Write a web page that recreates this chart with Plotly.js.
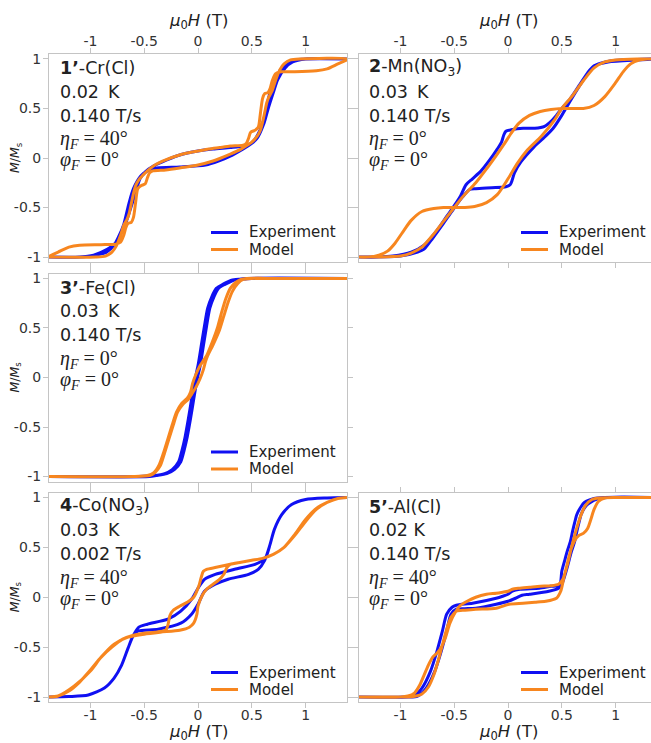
<!DOCTYPE html>
<html>
<head>
<meta charset="utf-8">
<script src="https://cdn.plot.ly/plotly-3.0.1.min.js"></script>
<style>
  html, body { margin: 0; padding: 0; overflow: hidden; background: #ffffff; }
</style>
</head>
<body>
<div id="chart"></div>
<script>
// ---------------------------------------------------------------------------
// Hysteresis loops M/Ms versus applied field mu0H (T).
// For every sample: experiment and model, descending sweep (+H -> -H)
// followed by ascending sweep (-H -> +H).
// ---------------------------------------------------------------------------

// 1'-Cr(Cl)
const crExpDownH = [1.4, 1.0, 0.9, 0.83, 0.76, 0.73, 0.67, 0.62, 0.58, 0.5, 0.42, 0.3, 0.14, 0, -0.17, -0.29, -0.41, -0.49, -0.54, -0.58, -0.63, -0.67, -0.72, -0.76, -0.84, -0.97, -1.1, -1.4];
const crExpDownM = [1, 1, 0.99, 0.96, 0.88, 0.79, 0.66, 0.42, 0.29, 0.15, 0.12, 0.105, 0.09, 0.07, 0.03, -0.02, -0.08, -0.14, -0.21, -0.35, -0.52, -0.65, -0.77, -0.85, -0.92, -0.98, -1, -1];
const crExpUpH = [-1.4, -1.1, -1.0, -0.85, -0.78, -0.74, -0.69, -0.64, -0.6, -0.53, -0.47, -0.38, -0.17, 0.07, 0.19, 0.32, 0.42, 0.49, 0.55, 0.61, 0.65, 0.7, 0.74, 0.81, 0.88, 1.0, 1.4];
const crExpUpM = [-1, -1, -0.99, -0.95, -0.88, -0.8, -0.67, -0.45, -0.31, -0.18, -0.13, -0.1, -0.09, -0.07, -0.03, 0.03, 0.09, 0.14, 0.2, 0.34, 0.49, 0.66, 0.79, 0.91, 0.97, 1, 1];
const crModDownH = [1.4, 1.3, 1.2, 1.1, 0.9, 0.77, 0.72, 0.69, 0.67, 0.65, 0.62, 0.6, 0.58, 0.56, 0.53, 0.49, 0.47, 0.45, 0.42, 0.3, 0.2, 0.1, 0, -0.1, -0.2, -0.3, -0.4, -0.46, -0.5, -0.55, -0.58, -0.6, -0.62, -0.64, -0.66, -0.69, -0.72, -0.76, -0.8, -0.86, -0.95, -1.4];
const crModDownM = [1, 0.95, 0.9, 0.88, 0.87, 0.87, 0.85, 0.78, 0.7, 0.66, 0.65, 0.6, 0.45, 0.31, 0.28, 0.26, 0.2, 0.15, 0.13, 0.12, 0.105, 0.09, 0.07, 0.05, 0.02, -0.02, -0.07, -0.12, -0.16, -0.22, -0.28, -0.36, -0.46, -0.56, -0.62, -0.68, -0.78, -0.89, -0.95, -0.99, -1, -1];
const crModUpH = [-1.4, -1.3, -1.2, -1.1, -0.9, -0.77, -0.72, -0.69, -0.67, -0.65, -0.62, -0.6, -0.58, -0.56, -0.53, -0.49, -0.47, -0.45, -0.42, -0.3, -0.17, 0, 0.14, 0.3, 0.4, 0.46, 0.5, 0.55, 0.58, 0.6, 0.62, 0.64, 0.66, 0.69, 0.72, 0.76, 0.8, 0.86, 0.95, 1.4];
const crModUpM = [-1, -0.95, -0.9, -0.88, -0.875, -0.87, -0.85, -0.78, -0.7, -0.66, -0.65, -0.6, -0.45, -0.31, -0.28, -0.26, -0.2, -0.15, -0.13, -0.12, -0.1, -0.07, -0.03, 0.04, 0.09, 0.13, 0.16, 0.22, 0.28, 0.36, 0.46, 0.56, 0.62, 0.68, 0.78, 0.89, 0.95, 0.99, 1, 1];

// 2-Mn(NO3)
const mnExpDownH = [1.4, 1.2, 0.93, 0.8, 0.74, 0.66, 0.58, 0.5, 0.45, 0.39, 0.34, 0.25, 0.14, 0.03, -0.02, -0.04, -0.06, -0.1, -0.17, -0.25, -0.33, -0.39, -0.44, -0.48, -0.57, -0.66, -0.78, -0.9, -1.07, -1.2, -1.4];
const mnExpDownM = [1, 0.99, 0.97, 0.93, 0.86, 0.73, 0.6, 0.5, 0.43, 0.36, 0.32, 0.3, 0.3, 0.285, 0.27, 0.23, 0.16, 0.09, -0.02, -0.13, -0.21, -0.27, -0.38, -0.45, -0.59, -0.73, -0.88, -0.95, -0.99, -1, -1];
const mnExpUpH = [-1.4, -1.0, -0.84, -0.78, -0.7, -0.6, -0.51, -0.42, -0.36, -0.3, -0.15, -0.02, 0.02, 0.04, 0.06, 0.12, 0.24, 0.33, 0.42, 0.5, 0.57, 0.66, 0.74, 0.82, 0.95, 1.2, 1.4];
const mnExpUpM = [-1, -0.99, -0.95, -0.92, -0.81, -0.66, -0.52, -0.39, -0.32, -0.31, -0.3, -0.29, -0.27, -0.22, -0.15, -0.04, 0.11, 0.2, 0.3, 0.43, 0.56, 0.72, 0.85, 0.94, 0.98, 0.995, 1];
const mnModDownH = [1.4, 1.2, 1.0, 0.9, 0.8, 0.7, 0.6, 0.5, 0.43, 0.31, 0.18, 0.09, 0, -0.1, -0.2, -0.31, -0.4, -0.5, -0.6, -0.69, -0.8, -0.9, -0.98, -1.05, -1.12, -1.2, -1.3, -1.4];
const mnModDownM = [1, 1, 0.99, 0.97, 0.91, 0.78, 0.63, 0.5, 0.38, 0.22, 0.08, -0.05, -0.21, -0.37, -0.45, -0.49, -0.5, -0.5, -0.5, -0.51, -0.54, -0.63, -0.75, -0.86, -0.94, -0.98, -1, -1];
const mnModUpH = [-1.4, -1.2, -1.0, -0.9, -0.8, -0.7, -0.6, -0.5, -0.42, -0.3, -0.2, -0.1, -0.03, 0.03, 0.1, 0.2, 0.3, 0.4, 0.5, 0.6, 0.7, 0.8, 0.9, 1.0, 1.07, 1.14, 1.22, 1.3, 1.4];
const mnModUpM = [-1, -1, -0.99, -0.96, -0.9, -0.78, -0.64, -0.5, -0.39, -0.25, -0.11, 0.04, 0.15, 0.25, 0.35, 0.43, 0.47, 0.49, 0.5, 0.5, 0.5, 0.53, 0.62, 0.76, 0.87, 0.95, 0.99, 1, 1];

// 3'-Fe(Cl)
const feExpDownH = [1.4, 0.5, 0.44, 0.32, 0.23, 0.17, 0.13, 0.09, 0.06, 0.03, 0, -0.03, -0.06, -0.09, -0.12, -0.15, -0.18, -0.24, -0.31, -0.41, -0.55, -1.4];
const feExpDownM = [1, 1, 0.995, 0.985, 0.94, 0.9, 0.82, 0.7, 0.52, 0.32, 0.12, -0.03, -0.22, -0.42, -0.6, -0.74, -0.85, -0.93, -0.97, -0.99, -1, -1];
const feExpUpH = [-1.4, -0.45, -0.39, -0.29, -0.22, -0.16, -0.13, -0.1, -0.07, -0.04, -0.01, 0.02, 0.05, 0.08, 0.11, 0.15, 0.19, 0.25, 0.34, 0.46, 1.4];
const feExpUpM = [-1, -1, -0.99, -0.97, -0.93, -0.85, -0.74, -0.6, -0.42, -0.22, -0.03, 0.12, 0.32, 0.52, 0.7, 0.82, 0.9, 0.94, 0.985, 1, 1];
const feModDownH = [1.4, 0.7, 0.45, 0.4, 0.35, 0.3, 0.26, 0.22, 0.18, 0.13, 0.08, 0.05, 0.02, -0.02, -0.05, -0.07, -0.1, -0.15, -0.2, -0.24, -0.28, -0.32, -0.36, -0.41, -0.47, -0.6, -1.4];
const feModDownM = [1, 1, 1, 0.99, 0.96, 0.9, 0.8, 0.66, 0.5, 0.35, 0.22, 0.17, 0.12, 0.03, -0.06, -0.15, -0.21, -0.26, -0.35, -0.48, -0.62, -0.76, -0.88, -0.96, -0.99, -1, -1];
const feModUpH = [-1.4, -0.6, -0.45, -0.4, -0.35, -0.31, -0.27, -0.23, -0.19, -0.14, -0.09, -0.06, -0.02, 0.02, 0.05, 0.07, 0.09, 0.14, 0.2, 0.24, 0.28, 0.32, 0.37, 0.42, 0.5, 0.7, 1.4];
const feModUpM = [-1, -1, -0.99, -0.96, -0.89, -0.76, -0.62, -0.48, -0.35, -0.27, -0.22, -0.17, -0.1, -0.01, 0.08, 0.16, 0.22, 0.33, 0.48, 0.62, 0.76, 0.87, 0.95, 0.99, 1, 1, 1];

// 4-Co(NO3)
const coExpDownH = [1.4, 1.2, 1.0, 0.87, 0.78, 0.71, 0.67, 0.63, 0.59, 0.53, 0.34, 0.16, 0.06, 0, -0.06, -0.16, -0.28, -0.47, -0.55, -0.6, -0.65, -0.71, -0.78, -0.87, -1.02, -1.2, -1.4];
const coExpDownM = [1, 0.995, 0.98, 0.93, 0.83, 0.68, 0.53, 0.4, 0.36, 0.33, 0.28, 0.23, 0.18, 0.09, -0.02, -0.14, -0.22, -0.27, -0.3, -0.38, -0.51, -0.68, -0.81, -0.91, -0.98, -0.995, -1];
const coExpUpH = [-1.4, -1.2, -1.02, -0.87, -0.78, -0.71, -0.65, -0.6, -0.56, -0.37, -0.16, -0.06, 0, 0.06, 0.16, 0.28, 0.47, 0.56, 0.62, 0.67, 0.71, 0.78, 0.87, 1.0, 1.2, 1.4];
const coExpUpM = [-1, -0.995, -0.98, -0.91, -0.81, -0.68, -0.51, -0.38, -0.34, -0.32, -0.26, -0.17, -0.07, 0.06, 0.13, 0.18, 0.23, 0.28, 0.37, 0.53, 0.68, 0.83, 0.93, 0.98, 0.995, 1];
const coModDownH = [1.4, 1.3, 1.2, 1.1, 1.0, 0.9, 0.8, 0.7, 0.6, 0.5, 0.4, 0.3, 0.17, 0.08, 0.05, 0.03, 0.01, -0.04, -0.1, -0.17, -0.23, -0.26, -0.28, -0.3, -0.4, -0.5, -0.6, -0.7, -0.8, -0.9, -1.0, -1.1, -1.2, -1.3, -1.4];
const coModDownM = [1, 0.99, 0.95, 0.89, 0.78, 0.63, 0.5, 0.43, 0.39, 0.37, 0.35, 0.33, 0.3, 0.28, 0.26, 0.2, 0.12, 0, -0.05, -0.09, -0.13, -0.18, -0.28, -0.33, -0.35, -0.36, -0.38, -0.42, -0.5, -0.6, -0.73, -0.85, -0.94, -0.99, -1];
const coModUpH = [-1.4, -1.3, -1.15, -1.0, -0.9, -0.78, -0.65, -0.5, -0.35, -0.17, -0.08, -0.04, -0.01, 0, 0.04, 0.08, 0.14, 0.2, 0.24, 0.27, 0.3, 0.4, 0.5, 0.6, 0.7, 0.8, 0.9, 1.0, 1.1, 1.2, 1.3, 1.4];
const coModUpM = [-1, -0.99, -0.89, -0.74, -0.6, -0.47, -0.4, -0.37, -0.35, -0.33, -0.3, -0.26, -0.17, -0.09, 0.02, 0.08, 0.13, 0.18, 0.23, 0.3, 0.33, 0.35, 0.37, 0.39, 0.43, 0.5, 0.62, 0.76, 0.88, 0.95, 0.99, 1];

// 5'-Al(Cl)
const alExpDownH = [1.4, 0.89, 0.8, 0.71, 0.68, 0.64, 0.62, 0.6, 0.58, 0.55, 0.53, 0.5, 0.48, 0.4, 0.29, 0.11, 0.04, 0, -0.05, -0.11, -0.33, -0.48, -0.52, -0.57, -0.61, -0.66, -0.72, -0.8, -0.88, -0.97, -1.4];
const alExpDownM = [1, 1, 0.99, 0.95, 0.91, 0.83, 0.75, 0.66, 0.56, 0.46, 0.38, 0.26, 0.12, 0.11, 0.09, 0.08, 0.06, 0.03, 0.01, -0.01, -0.06, -0.08, -0.1, -0.17, -0.34, -0.54, -0.74, -0.91, -0.99, -1, -1];
const alExpUpH = [-1.4, -0.93, -0.84, -0.76, -0.68, -0.62, -0.57, -0.53, -0.48, -0.4, -0.3, -0.11, 0, 0.07, 0.13, 0.2, 0.38, 0.47, 0.5, 0.54, 0.57, 0.59, 0.62, 0.64, 0.66, 0.68, 0.72, 0.75, 0.84, 0.93, 1.4];
const alExpUpM = [-1, -1, -0.99, -0.91, -0.74, -0.54, -0.34, -0.17, -0.12, -0.115, -0.11, -0.07, -0.04, -0.01, 0.02, 0.03, 0.06, 0.09, 0.13, 0.26, 0.38, 0.46, 0.56, 0.66, 0.75, 0.83, 0.91, 0.94, 0.99, 1, 1];
const alModDownH = [1.4, 1.0, 0.85, 0.78, 0.72, 0.67, 0.63, 0.59, 0.55, 0.51, 0.47, 0.4, 0.3, 0.2, 0.1, 0.04, 0, -0.05, -0.11, -0.2, -0.3, -0.38, -0.44, -0.49, -0.54, -0.58, -0.62, -0.66, -0.7, -0.74, -0.78, -0.82, -0.87, -0.93, -1.0, -1.4];
const alModDownM = [1, 1, 0.995, 0.98, 0.92, 0.8, 0.66, 0.5, 0.32, 0.18, 0.13, 0.115, 0.11, 0.1, 0.09, 0.08, 0.06, 0.05, 0.04, 0.03, 0, -0.04, -0.08, -0.15, -0.26, -0.4, -0.5, -0.56, -0.6, -0.68, -0.78, -0.88, -0.96, -0.99, -1, -1];
const alModUpH = [-1.4, -1.0, -0.88, -0.8, -0.74, -0.69, -0.65, -0.61, -0.57, -0.53, -0.48, -0.4, -0.3, -0.11, 0.01, 0.14, 0.25, 0.35, 0.45, 0.49, 0.52, 0.55, 0.58, 0.62, 0.66, 0.7, 0.74, 0.77, 0.8, 0.84, 0.9, 1.0, 1.4];
const alModUpM = [-1, -1, -0.995, -0.97, -0.9, -0.78, -0.64, -0.48, -0.32, -0.2, -0.14, -0.13, -0.12, -0.11, -0.07, -0.06, -0.05, -0.04, -0.01, 0.06, 0.2, 0.33, 0.46, 0.57, 0.62, 0.64, 0.69, 0.78, 0.88, 0.96, 0.995, 1, 1];

// Panel captions
const sampleNames = ['<b>1’</b>-Cr(Cl)', '<b>2</b>-Mn(NO<sub>3</sub>)', '<b>3’</b>-Fe(Cl)', '<b>4</b>-Co(NO<sub>3</sub>)', '<b>5’</b>-Al(Cl)'];
const temperatures = ['0.02 \u2009K', '0.03 \u2009K', '0.03 \u2009K', '0.03 \u2009K', '0.02 K'];
const sweepRates = ['0.140 T/s', '0.140 T/s', '0.140 T/s', '0.002 T/s', '0.140 T/s'];
const etaF = [40, 0, 0, 40, 40];
const phiF = [0, 0, 0, 0, 0];

// Axis ticks
const tickVals = [-1, -0.5, 0, 0.5, 1];
const tickText = ['-1', '-0.5', '0', '0.5', '1'];
const seriesNames = ['Experiment', 'Model'];

// ---------------------------------------------------------------------------
const expColor = '#1010f2';
const modColor = '#f7861f';
const frameColor = '#c4c4c4';
const textColor = '#222222';
const sans = 'DejaVu Sans, Liberation Sans, sans-serif';
const serif = 'Liberation Serif, DejaVu Serif, serif';

const W = 660, H = 743;
const colLeft = [49, 359], colW = 298;
const rowTop = [54, 273.5, 492.5], rowH = [208, 208, 209.5];
const fx = px => px / W;
const fy = px => 1 - px / H;

const panels = [
  {col: 0, row: 0, xLabels: 'top',    yLabels: true,  expH: [crExpDownH, crExpUpH], expM: [crExpDownM, crExpUpM], modH: [crModDownH, crModUpH], modM: [crModDownM, crModUpM]},
  {col: 1, row: 0, xLabels: 'top',    yLabels: false, expH: [mnExpDownH, mnExpUpH], expM: [mnExpDownM, mnExpUpM], modH: [mnModDownH, mnModUpH], modM: [mnModDownM, mnModUpM]},
  {col: 0, row: 1, xLabels: 'none',   yLabels: true,  expH: [feExpDownH, feExpUpH], expM: [feExpDownM, feExpUpM], modH: [feModDownH, feModUpH], modM: [feModDownM, feModUpM]},
  {col: 0, row: 2, xLabels: 'bottom', yLabels: true,  expH: [coExpDownH, coExpUpH], expM: [coExpDownM, coExpUpM], modH: [coModDownH, coModUpH], modM: [coModDownM, coModUpM]},
  {col: 1, row: 2, xLabels: 'bottom', yLabels: false, expH: [alExpDownH, alExpUpH], expM: [alExpDownM, alExpUpM], modH: [alModDownH, alModUpH], modM: [alModDownM, alModUpM]}
];

const traces = [];
const annotations = [];
const shapes = [];
const layout = {
  width: W, height: H,
  margin: {l: 0, r: 0, t: 0, b: 0},
  paper_bgcolor: '#ffffff', plot_bgcolor: '#ffffff',
  showlegend: false,
  font: {family: sans, color: textColor}
};

const lineSpec = (color) => ({color: color, width: 3, shape: 'spline', smoothing: 0.7});

panels.forEach((p, i) => {
  const n = i === 0 ? '' : String(i + 1);
  const xRef = 'x' + n, yRef = 'y' + n;
  const left = colLeft[p.col], right = left + colW;
  const top = rowTop[p.row], bottom = top + rowH[p.row];

  const axisBase = {
    showline: true, linecolor: frameColor, linewidth: 1, mirror: 'ticks',
    ticks: 'outside', ticklen: 5, tickwidth: 1, tickcolor: frameColor,
    showgrid: false, zeroline: false, fixedrange: true,
    tickmode: 'array', tickvals: tickVals, ticktext: tickText,
    tickfont: {family: sans, size: 14, color: '#333333'}
  };

  layout['xaxis' + n] = Object.assign({}, axisBase, {
    domain: [fx(left), fx(right)], range: [-1.385, 1.385],
    anchor: yRef, side: p.xLabels === 'top' ? 'top' : 'bottom',
    showticklabels: p.xLabels !== 'none',
    ticklabelstandoff: p.xLabels === 'bottom' ? -5 : -4
  });
  layout['yaxis' + n] = Object.assign({}, axisBase, {
    domain: [fy(bottom), fy(top)], range: [-1.05, 1.05],
    anchor: xRef, showticklabels: p.yLabels,
    ticklabelstandoff: -1
  });

  // experiment then model, each drawn as descending + ascending sweep
  traces.push({
    type: 'scatter', mode: 'lines', name: seriesNames[0], xaxis: xRef, yaxis: yRef,
    x: p.expH[0].concat(p.expH[1]), y: p.expM[0].concat(p.expM[1]),
    line: lineSpec(expColor), hoverinfo: 'skip'
  });
  traces.push({
    type: 'scatter', mode: 'lines', name: seriesNames[1], xaxis: xRef, yaxis: yRef,
    x: p.modH[0].concat(p.modH[1]), y: p.modM[0].concat(p.modM[1]),
    line: lineSpec(modColor), hoverinfo: 'skip'
  });

  // caption block in the upper-left corner
  const tx = fx(left + 8.5);
  const captions = [
    {text: sampleNames[i], dy: 14, family: sans, size: 17.5},
    {text: temperatures[i], dy: 37.5, family: sans, size: 17.5},
    {text: sweepRates[i], dy: 61.5, family: sans, size: 17.5},
    {text: '<i>η<sub>F</sub></i> = ' + etaF[i] + '°', dy: 85.5, family: serif, size: 20},
    {text: '<i>φ<sub>F</sub></i> = ' + phiF[i] + '°', dy: 107, family: serif, size: 20}
  ];
  captions.forEach(c => annotations.push({
    xref: 'paper', yref: 'paper', x: tx, y: fy(top + c.dy),
    xanchor: 'left', yanchor: 'middle', showarrow: false,
    text: c.text, font: {family: c.family, size: c.size, color: textColor}
  }));

  // legend block in the lower-right corner
  [[expColor, 29.5], [modColor, 12.5]].forEach((entry, k) => {
    shapes.push({
      type: 'line', xref: 'paper', yref: 'paper', layer: 'above',
      x0: fx(right - 136), x1: fx(right - 109), y0: fy(bottom - entry[1]), y1: fy(bottom - entry[1]),
      line: {color: entry[0], width: 3}
    });
    annotations.push({
      xref: 'paper', yref: 'paper', x: fx(right - 99), y: fy(bottom - entry[1]),
      xanchor: 'left', yanchor: 'middle', showarrow: false, borderpad: 0,
      text: seriesNames[k], font: {family: sans, size: 15, color: textColor}
    });
  });

  // axis titles
  const fieldTitle = '<i>μ</i><sub>0</sub><i>H</i> (T)';
  if (p.xLabels === 'top' || p.xLabels === 'bottom') {
    annotations.push({
      xref: 'paper', yref: 'paper', x: fx((left + right) / 2),
      y: fy(p.xLabels === 'top' ? 21 : 732),
      xanchor: 'center', yanchor: 'middle', showarrow: false, borderpad: 0,
      text: fieldTitle, font: {family: sans, size: 16.5, color: textColor}
    });
  }
  if (p.yLabels) {
    annotations.push({
      xref: 'paper', yref: 'paper', x: fx(15), y: fy((top + bottom) / 2),
      xanchor: 'center', yanchor: 'middle', showarrow: false, textangle: -90,
      text: '<i>M</i>/<i>M</i><sub>s</sub>', font: {family: sans, size: 12.5, color: textColor}
    });
  }
});

layout.annotations = annotations;
layout.shapes = shapes;

Plotly.newPlot('chart', traces, layout, {displayModeBar: false, staticPlot: true});
</script>
</body>
</html>
